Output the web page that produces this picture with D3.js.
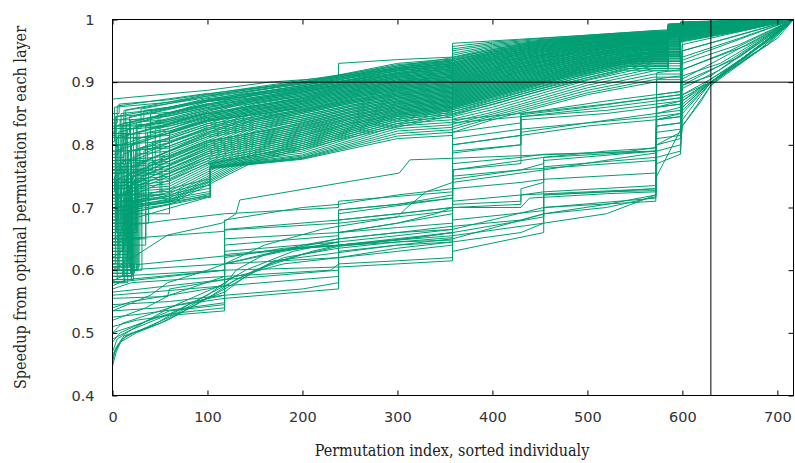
<!DOCTYPE html>
<html>
<head>
<meta charset="utf-8">
<script src="https://cdn.jsdelivr.net/npm/d3@7"></script>
<style>
  body { margin: 0; background: #fff; }
</style>
</head>
<body>
<div id="chart"></div>
<script>
// axis ticks and reference lines
const xTicks = [0, 100, 200, 300, 400, 500, 600, 700];
const yTicks = [0.4, 0.5, 0.6, 0.7, 0.8, 0.9, 1];
const xMax = 717;
const refX = 630;
const refY = 0.9;

// upper band (set A), one entry per line at fixed x positions
const upStart = [.835,.78,.826,.70,.818,.76,.812,.66,.805,.80, .72,.79,.745,.785,.64,.77,.705,.765,.68,.755,
  .62,.74,.735,.69,.73,.61,.715,.71,.655,.725, .695,.60,.685,.675,.645,.67,.59,.66,.65,.635,
  .625,.64,.60,.63,.615,.62,.585,.61,.605,.595, .60,.59,.585,.582,.58];
const upJumpX = [5,12,30,3,18,8,40,25,2,15, 50,10,22,6,35,14,4,28,9,45,
  16,3,20,60,11,24,7,33,13,2, 19,27,5,38,15,9,21,4,30,12,
  17,6,26,10,14,8,22,3,18,11, 6,15,20,13,16];
const upJumpY = [.862,.855,.857,.845,.845,.84,.85,.835,.83,.835, .845,.83,.828,.82,.83,.815,.81,.82,.80,.825,
  .80,.79,.80,.82,.785,.79,.77,.79,.77,.75, .765,.77,.745,.77,.75,.74,.75,.73,.75,.73,
  .735,.72,.735,.72,.715,.71,.71,.70,.705,.70, .695,.69,.70,.69,.68];
const up100 = [.882,.880,.878,.871,.874,.872,.870,.869,.866,.864, .862,.860,.858,.856,.850,.852,.850,.848,.846,.844,
  .842,.840,.838,.839,.834,.831,.828,.825,.822,.819, .816,.813,.806,.807,.804,.801,.798,.795,.792,.789,
  .786,.782,.778,.774,.770,.745,.740,.735,.730,.725, .722,.720,.718,.717,.716];
const up103 = [.882,.880,.878,.871,.874,.872,.870,.869,.866,.864, .862,.860,.858,.856,.850,.852,.850,.848,.846,.844,
  .842,.840,.838,.839,.834,.831,.828,.825,.822,.819, .816,.813,.806,.807,.804,.801,.798,.795,.792,.789,
  .786,.782,.778,.774,.770,.772,.770,.768,.766,.765, .764,.764,.763,.763,.762];
const up200 = [.900,.899,.897,.895,.894,.892,.890,.889,.887,.885, .884,.882,.880,.878,.876,.874,.872,.870,.868,.866,
  .864,.862,.860,.858,.856,.854,.852,.850,.847,.844, .841,.838,.835,.832,.829,.826,.823,.820,.817,.814,
  .811,.808,.805,.802,.799,.796,.793,.790,.787,.784, .782,.780,.779,.778,.777];
const up300 = [.930,.928,.926,.924,.922,.921,.919,.918,.916,.914, .913,.911,.909,.908,.906,.904,.902,.901,.899,.897,
  .895,.893,.891,.889,.887,.885,.883,.881,.879,.877, .875,.873,.871,.869,.867,.865,.863,.861,.859,.857,
  .855,.853,.851,.849,.847,.845,.842,.838,.834,.830, .826,.822,.818,.814,.810];
const up358a = [.937,.935,.934,.932,.930,.929,.927,.926,.924,.922, .921,.919,.917,.915,.913,.911,.909,.908,.906,.904,
  .902,.900,.898,.896,.894,.892,.890,.888,.886,.884, .882,.880,.878,.876,.874,.872,.870,.868,.866,.864,
  .862,.860,.858,.856,.854,.851,.848,.844,.840,.836, .832,.828,.824,.820,.815];
const up358b = [.957,.953,.950,.946,.943,.940,.937,.934,.931,.929, .927,.925,.923,.921,.919,.917,.915,.913,.911,.909,
  .907,.905,.903,.901,.899,.897,.895,.893,.891,.889, .887,.885,.883,.881,.879,.877,.875,.873,.871,.869,
  .867,.865,.863,.861,.859,.856,.853,.849,.845,.841, .837,.833,.829,.825,.820];
const up400 = [.964,.962,.960,.958,.956,.954,.952,.950,.948,.946, .944,.942,.940,.938,.936,.934,.932,.930,.928,.926,
  .924,.922,.920,.918,.916,.914,.912,.910,.908,.906, .904,.902,.900,.898,.896,.894,.892,.890,.888,.886,
  .884,.882,.880,.878,.876,.872,.868,.864,.860,.856, .852,.849,.846,.843,.840];
const up500 = [.975,.974,.973,.972,.971,.970,.969,.968,.967,.966, .965,.964,.963,.962,.961,.960,.958,.957,.956,.955,
  .953,.952,.950,.949,.947,.946,.944,.943,.941,.940, .938,.937,.935,.934,.932,.931,.929,.928,.926,.925,
  .923,.922,.920,.919,.917,.914,.911,.907,.903,.899, .895,.891,.887,.883,.880];
const up570 = [.982,.981,.980,.980,.979,.978,.978,.977,.976,.975, .974,.974,.973,.972,.971,.970,.969,.968,.967,.966,
  .965,.964,.963,.962,.961,.960,.959,.958,.957,.955, .954,.953,.952,.950,.949,.948,.947,.946,.944,.943,
  .942,.941,.940,.938,.937,.935,.933,.930,.926,.922, .918,.913,.908,.904,.900];
const up598 = [.996,.995,.995,.994,.994,.993,.993,.992,.992,.991, .991,.990,.990,.989,.989,.988,.988,.987,.987,.986,
  .986,.985,.985,.984,.984,.983,.983,.982,.982,.981, .981,.980,.980,.979,.979,.978,.978,.977,.977,.976,
  .976,.975,.975,.974,.974,.973,.972,.971,.970,.969, .968,.967,.966,.965,.964];
const up660 = [.999,.999,.998,.998,.998,.998,.997,.997,.997,.997, .996,.996,.996,.996,.995,.995,.995,.995,.994,.994,
  .994,.993,.993,.993,.993,.992,.992,.992,.991,.991, .991,.990,.990,.990,.989,.989,.989,.988,.988,.988,
  .987,.987,.987,.986,.986,.986,.985,.985,.984,.984, .983,.983,.982,.982,.981];

// upper band (set B), read at other x positions
const bStart = [.85,.82,.76,.84,.70,.80,.83,.74,.79,.66, .815,.72,.775,.68,.80,.63,.76,.70,.74,.61,
  .755,.665,.72,.64,.70,.60,.715,.62,.69,.65, .675,.595,.66,.63,.645,.605,.64,.60,.62,.59,
  .615,.60,.585,.595,.58];
const bJumpX = [7,2,14,33,9,4,48,19,11,26, 3,16,37,6,22,12,42,5,29,17, 8,24,52,3,15,31,10,20,6,35,
  13,23,4,18,9,28,14,7,21,11, 16,25,5,19,12];
const bJumpY = [.865,.86,.855,.855,.85,.845,.848,.84,.835,.83, .83,.825,.82,.815,.81,.81,.805,.80,.795,.79,
  .79,.785,.782,.775,.77,.77,.765,.76,.755,.755, .75,.745,.74,.735,.73,.73,.725,.72,.715,.71,
  .71,.705,.70,.70,.695];
const b60 = [.872,.868,.866,.860,.858,.852,.850,.846,.840,.838, .835,.830,.826,.822,.818,.815,.810,.806,.803,.798,
  .795,.790,.786,.782,.778,.774,.770,.766,.762,.758, .754,.750,.746,.742,.738,.734,.730,.726,.722,.718,
  .715,.712,.710,.708,.705];
const b150 = [.892,.890,.887,.886,.883,.881,.879,.876,.874,.872, .870,.867,.865,.862,.860,.857,.855,.852,.850,.847,
  .845,.842,.840,.837,.834,.831,.828,.825,.822,.819, .816,.813,.810,.807,.804,.801,.798,.795,.792,.789,
  .786,.783,.780,.777,.774];
const b250 = [.914,.912,.911,.909,.907,.904,.903,.901,.899,.897, .895,.893,.891,.889,.887,.885,.883,.881,.879,.877,
  .875,.872,.870,.868,.866,.863,.861,.858,.856,.853, .851,.848,.846,.843,.841,.838,.835,.833,.830,.827,
  .824,.821,.818,.815,.812];
const b358 = [.939,.936,.934,.932,.930,.928,.926,.924,.922,.920, .918,.916,.914,.912,.910,.908,.906,.904,.902,.900,
  .898,.896,.894,.892,.890,.888,.886,.884,.882,.880, .878,.876,.874,.872,.870,.868,.866,.864,.862,.860,
  .858,.856,.853,.850,.847];
const b450 = [.967,.965,.964,.962,.961,.959,.958,.956,.955,.953, .952,.950,.948,.947,.945,.943,.942,.940,.938,.937,
  .935,.933,.932,.930,.928,.926,.925,.923,.921,.919, .917,.915,.913,.911,.909,.907,.905,.903,.901,.899,
  .897,.895,.892,.889,.886];
const b540 = [.978,.977,.976,.975,.974,.973,.972,.971,.970,.969, .968,.967,.966,.965,.964,.963,.962,.961,.960,.959,
  .958,.956,.955,.954,.952,.951,.950,.948,.947,.945, .944,.942,.941,.939,.938,.936,.935,.933,.932,.930,
  .929,.927,.925,.922,.919];
const b585 = [.993,.992,.992,.991,.991,.990,.990,.989,.989,.988, .988,.987,.987,.986,.986,.985,.985,.984,.984,.983,
  .983,.982,.982,.981,.981,.980,.980,.979,.979,.978, .978,.977,.977,.976,.976,.975,.975,.974,.974,.973,
  .973,.972,.972,.971,.970];
const b680 = [.999,.999,.999,.998,.998,.998,.998,.998,.997,.997, .997,.997,.997,.996,.996,.996,.996,.996,.995,.995,
  .995,.995,.995,.994,.994,.994,.994,.994,.993,.993, .993,.993,.993,.992,.992,.992,.992,.992,.991,.991,
  .991,.991,.990,.990,.990];

// top edge line of the band, as x,y pairs
const topLine = [0,.873, 20,.876, 100,.887, 165,.9, 238,.908, 238,.93, 300,.936, 358,.94, 358,.962, 500,.975, 598,.985, 598,.996, 717,1];

// lower group lines, as x,y pairs
const lowerLines = [
  [0,.447, 4,.47, 10,.49, 22,.50, 58,.52, 100,.555, 118,.57, 170,.615, 238,.628, 300,.64, 358,.65, 455,.69, 520,.70, 572,.717, 573,.80, 598,.82, 600,.86, 630,.90, 665,.94, 700,.98, 717,1],
  [0,.46, 6,.48, 14,.495, 40,.51, 80,.545, 118,.575, 150,.60, 200,.625, 238,.638, 300,.648, 358,.66, 358,.70, 430,.70, 439,.715, 520,.722, 572,.725, 573,.85, 598,.86, 600,.88, 630,.90, 680,.955, 717,1],
  [0,.47, 5,.49, 20,.505, 60,.53, 100,.56, 118,.58, 140,.60, 190,.63, 238,.645, 300,.655, 358,.665, 454,.70, 454,.76, 540,.78, 572,.787, 573,.83, 598,.835, 600,.88, 630,.905, 690,.96, 717,1],
  [0,.485, 8,.50, 30,.515, 60,.535, 118,.545, 118,.61, 200,.64, 238,.65, 300,.66, 358,.67, 358,.74, 430,.755, 454,.76, 454,.775, 572,.79, 573,.88, 598,.885, 600,.91, 640,.93, 717,1],
  [0,.50, 20,.51, 58,.53, 118,.54, 118,.664, 238,.675, 238,.696, 300,.705, 358,.72, 358,.787, 430,.80, 430,.848, 500,.86, 572,.875, 598,.88, 600,.93, 660,.96, 717,1],
  [0,.51, 25,.52, 60,.528, 118,.535, 118,.62, 180,.635, 238,.64, 238,.68, 300,.69, 358,.70, 359,.76, 430,.775, 454,.78, 520,.79, 572,.795, 573,.84, 598,.845, 600,.87, 630,.90, 680,.955, 717,1],
  [0,.525, 30,.53, 118,.548, 118,.65, 238,.66, 238,.69, 358,.715, 358,.82, 430,.835, 430,.85, 520,.865, 572,.875, 598,.88, 600,.94, 660,.97, 717,1],
  [0,.535, 50,.54, 118,.555, 238,.57, 238,.62, 300,.63, 358,.64, 358,.80, 430,.815, 500,.83, 572,.84, 598,.845, 600,.92, 650,.95, 717,1],
  [0,.545, 60,.55, 118,.56, 200,.57, 238,.58, 238,.66, 300,.675, 358,.69, 358,.75, 430,.76, 454,.77, 454,.78, 572,.79, 573,.905, 598,.91, 600,.935, 717,1],
  [0,.555, 58,.558, 60,.57, 118,.585, 180,.61, 238,.62, 300,.635, 358,.645, 430,.66, 454,.675, 520,.69, 572,.72, 573,.79, 598,.80, 600,.83, 620,.87, 630,.895, 680,.95, 717,1],
  [0,.56, 40,.565, 118,.575, 238,.59, 238,.63, 300,.64, 358,.645, 358,.71, 430,.72, 454,.725, 572,.735, 573,.84, 598,.85, 600,.86, 630,.90, 690,.96, 717,1],
  [0,.57, 20,.58, 118,.59, 230,.60, 238,.61, 300,.615, 358,.62, 358,.63, 454,.66, 454,.72, 520,.725, 572,.73, 573,.83, 598,.835, 600,.875, 630,.90, 700,.97, 717,1],
  [0,.575, 15,.585, 118,.60, 238,.605, 300,.61, 358,.615, 358,.77, 430,.78, 454,.785, 572,.79, 573,.86, 598,.87, 600,.90, 660,.94, 717,1],
  [0,.583, 10,.59, 12,.60, 118,.61, 238,.62, 238,.64, 358,.66, 358,.745, 430,.76, 572,.775, 573,.82, 598,.825, 600,.855, 630,.898, 680,.95, 717,1],
  [0,.605, 100,.62, 200,.635, 300,.645, 358,.648, 358,.68, 454,.695, 454,.72, 520,.725, 572,.727, 573,.915, 598,.92, 600,.95, 717,1],
  [0,.59, 118,.60, 118,.625, 238,.64, 300,.648, 358,.655, 454,.675, 454,.70, 572,.71, 573,.78, 598,.79, 600,.84, 630,.90, 717,1],
  [0,.60, 14,.613, 58,.656, 115,.675, 130,.69, 134,.712, 302,.755, 313,.776, 540,.789, 570,.795, 573,.80, 598,.81, 600,.87, 630,.905, 690,.965, 717,1],
  [0,.62, 10,.63, 12,.65, 100,.66, 118,.662, 118,.68, 200,.70, 238,.705, 300,.72, 358,.73, 358,.80, 430,.815, 430,.84, 520,.85, 572,.86, 598,.865, 600,.95, 660,.975, 717,1],
  [0,.65, 8,.655, 10,.67, 60,.68, 118,.69, 238,.70, 238,.71, 358,.725, 358,.835, 430,.845, 520,.86, 572,.87, 598,.875, 600,.96, 717,1],
  [0,.535, 40,.56, 58,.58, 100,.60, 118,.61, 160,.64, 220,.665, 238,.67, 300,.685, 310,.70, 330,.725, 358,.74, 358,.76, 430,.77, 430,.82, 500,.835, 572,.85, 598,.855, 600,.895, 630,.91, 700,.985, 717,1],
  [0,.49, 20,.505, 60,.54, 120,.58, 130,.60, 160,.625, 238,.65, 300,.66, 358,.665, 358,.705, 430,.71, 430,.73, 454,.74, 454,.765, 572,.78, 573,.81, 598,.815, 600,.865, 630,.90, 717,1],
  [0,.52, 35,.54, 60,.56, 118,.59, 118,.61, 180,.63, 238,.645, 238,.66, 300,.675, 340,.69, 358,.70, 430,.705, 430,.72, 500,.725, 572,.73, 573,.87, 598,.875, 600,.905, 717,1],
  [0,.452, 3,.475, 12,.495, 30,.505, 60,.525, 90,.55, 118,.565, 140,.59, 180,.62, 238,.635, 300,.645, 358,.652, 358,.67, 430,.68, 454,.69, 520,.705, 572,.72, 573,.75, 590,.80, 600,.83, 630,.895, 670,.945, 717,1],
  [0,.465, 8,.485, 25,.50, 50,.515, 75,.535, 105,.56, 130,.585, 165,.61, 210,.63, 238,.64, 320,.652, 358,.66, 454,.685, 454,.70, 572,.715, 573,.77, 598,.785, 600,.85, 630,.90, 717,1],
  [0,.50, 10,.515, 40,.53, 70,.545, 118,.56, 118,.64, 238,.655, 238,.675, 300,.685, 358,.695, 358,.73, 430,.74, 454,.745, 572,.755, 573,.86, 598,.865, 600,.89, 640,.92, 717,1],
  [0,.54, 20,.55, 60,.56, 100,.57, 118,.575, 118,.665, 238,.68, 300,.69, 358,.70, 358,.79, 430,.80, 430,.845, 520,.855, 572,.865, 598,.87, 600,.92, 670,.96, 717,1],
  [0,.565, 30,.57, 118,.585, 238,.60, 238,.66, 300,.668, 358,.675, 358,.81, 430,.825, 500,.835, 572,.845, 598,.85, 600,.895, 650,.935, 717,1],
  [0,.58, 60,.59, 118,.60, 118,.63, 238,.645, 238,.696, 300,.705, 358,.715, 358,.84, 430,.85, 520,.87, 572,.88, 598,.885, 600,.97, 717,1]
];

const xLabel = "Permutation index, sorted individualy";
const yLabel = "Speedup from optimal permutation for each layer";

const width = 795, height = 463;
const margin = { top: 19.5, right: 1.5, bottom: 67.5, left: 112.5 };
const lineColor = "#009e73";

const svg = d3.select("#chart")
    .append("svg")
    .attr("width", width)
    .attr("height", height);

const x = d3.scaleLinear().domain([0, xMax]).range([margin.left, width - margin.right]);
const y = d3.scaleLinear().domain([0.4, 1]).range([height - margin.bottom, margin.top]);

svg.append("clipPath").attr("id", "clip")
    .append("rect")
    .attr("x", margin.left).attr("y", margin.top)
    .attr("width", width - margin.right - margin.left)
    .attr("height", height - margin.bottom - margin.top);

function toPairs(flat) {
    const pts = [];
    for (let k = 0; k < flat.length; k += 2) pts.push([flat[k], flat[k + 1]]);
    return pts;
}

function upperPoints(i) {
    const s = upStart[i], jx = upJumpX[i];
    return [[0, s], [jx, s], [jx, upJumpY[i]], [100, up100[i]], [103, up100[i]], [103, up103[i]],
        [200, up200[i]], [300, up300[i]], [358, up358a[i]], [358, up358b[i]], [400, up400[i]],
        [500, up500[i]], [570, up570[i]], [598, up570[i]], [598, up598[i]], [660, up660[i]], [xMax, 1]];
}

function upperPointsB(i) {
    const s = bStart[i], jx = bJumpX[i];
    return [[0, s], [jx, s], [jx, bJumpY[i]], [60, b60[i]], [150, b150[i]], [250, b250[i]],
        [358, b358[i]], [450, b450[i]], [540, b540[i]], [585, b540[i]], [585, b585[i]], [680, b680[i]], [xMax, 1]];
}

const series = [];
upStart.forEach((d, i) => series.push(upperPoints(i)));
bStart.forEach((d, i) => series.push(upperPointsB(i)));
series.push(toPairs(topLine));
lowerLines.forEach(l => series.push(toPairs(l)));

const line = d3.line()
    .x(d => x(d[0]))
    .y(d => y(d[1]));

svg.append("g")
    .attr("clip-path", "url(#clip)")
    .selectAll("path")
    .data(series)
    .join("path")
    .style("fill", "none")
    .style("stroke", lineColor)
    .style("stroke-width", "1px")
    .attr("d", line);

// reference lines
svg.append("line")
    .attr("x1", x(0)).attr("x2", x(xMax))
    .attr("y1", y(refY)).attr("y2", y(refY))
    .style("stroke", "#000").style("stroke-width", "1px");
svg.append("line")
    .attr("x1", x(refX)).attr("x2", x(refX))
    .attr("y1", y(0.4)).attr("y2", y(1))
    .style("stroke", "#000").style("stroke-width", "1px");

// axes with inward ticks, mirrored on top and right
const tickFont = "'DejaVu Sans', sans-serif";

svg.append("g")
    .attr("transform", "translate(0," + y(0.4) + ")")
    .style("font-family", tickFont).style("font-size", "14.5px")
    .call(d3.axisBottom(x).tickValues(xTicks).tickSizeInner(-5).tickSizeOuter(0).tickPadding(16).tickFormat(d3.format("d")))
    .call(g => g.select(".domain").remove());

svg.append("g")
    .attr("transform", "translate(0," + y(1) + ")")
    .call(d3.axisTop(x).tickValues(xTicks).tickSizeInner(-5).tickSizeOuter(0).tickFormat(""))
    .call(g => g.select(".domain").remove());

svg.append("g")
    .attr("transform", "translate(" + x(0) + ",0)")
    .style("font-family", tickFont).style("font-size", "14.5px")
    .call(d3.axisLeft(y).tickValues(yTicks).tickSizeInner(-5).tickSizeOuter(0).tickPadding(18).tickFormat(d => d === 1 ? "1" : d3.format(".1f")(d)))
    .call(g => g.select(".domain").remove());

svg.append("g")
    .attr("transform", "translate(" + x(xMax) + ",0)")
    .call(d3.axisRight(y).tickValues(yTicks).tickSizeInner(-5).tickSizeOuter(0).tickFormat(""))
    .call(g => g.select(".domain").remove());

svg.selectAll(".tick text").style("fill", "#333");

// border
svg.append("rect")
    .attr("x", x(0)).attr("y", y(1))
    .attr("width", x(xMax) - x(0))
    .attr("height", y(0.4) - y(1))
    .style("fill", "none").style("stroke", "#000").style("stroke-width", "1px");

// axis titles
svg.append("text")
    .attr("x", (x(0) + x(xMax)) / 2 - 1)
    .attr("y", 456)
    .style("text-anchor", "middle")
    .style("font-family", "'DejaVu Serif Condensed', 'DejaVu Serif', serif")
    .style("font-stretch", "condensed")
    .style("font-size", "16px")
    .style("fill", "#222")
    .text(xLabel);

svg.append("text")
    .attr("transform", "translate(26," + (y(0.4) + y(1)) / 2 + ") rotate(-90)")
    .style("text-anchor", "middle")
    .style("font-family", "'DejaVu Serif Condensed', 'DejaVu Serif', serif")
    .style("font-stretch", "condensed")
    .style("font-size", "16px")
    .style("fill", "#222")
    .text(yLabel);
</script>
</body>
</html>
